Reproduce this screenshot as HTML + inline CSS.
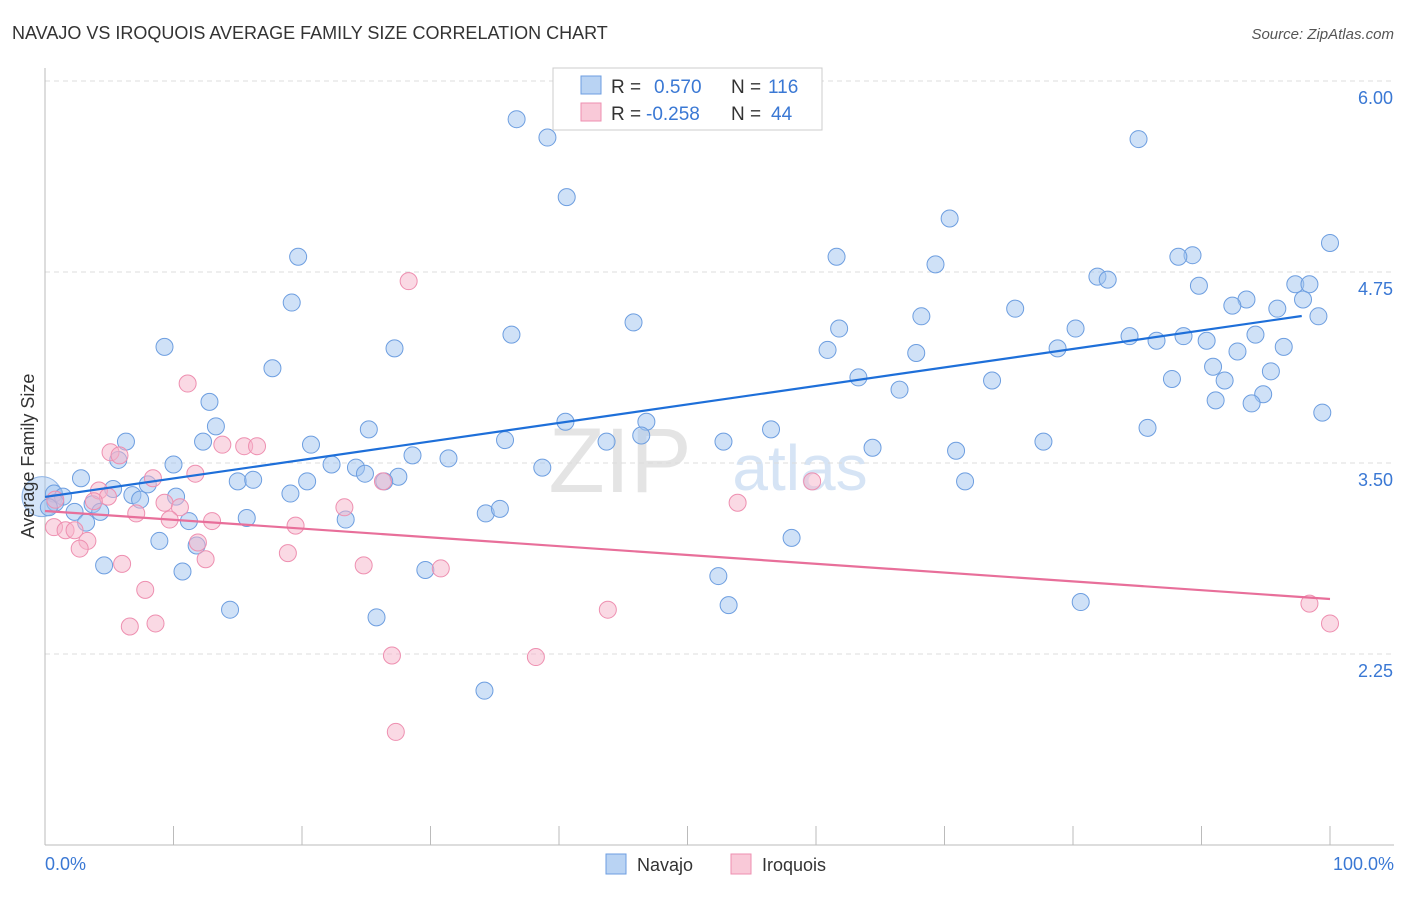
<!DOCTYPE html>
<html><head><meta charset="utf-8"><style>
body{margin:0;background:#fff;font-family:"Liberation Sans",sans-serif;}
svg text{font-family:"Liberation Sans",sans-serif;}
</style></head><body>
<svg id="chart" width="1406" height="892" viewBox="0 0 1406 892" xmlns="http://www.w3.org/2000/svg">
<text x="12" y="39" font-size="18" fill="#333">NAVAJO VS IROQUOIS AVERAGE FAMILY SIZE CORRELATION CHART</text>
<text x="1394" y="39" font-size="15" fill="#555" font-style="italic" text-anchor="end">Source: ZipAtlas.com</text>
<text x="620" y="492" font-size="92" fill="#e4e4e4" text-anchor="middle" font-family="Liberation Serif">ZIP</text>
<text x="800" y="490" font-size="64" fill="#d6e4f5" text-anchor="middle">atlas</text>
<g id="grid"></g>
<g id="axes"></g>
<g id="points"></g>
<g id="trends"></g>
<text transform="translate(34,456) rotate(-90)" font-size="18" fill="#333" text-anchor="middle">Average Family Size</text>
<text x="45" y="870" font-size="18" fill="#3a78d4">0.0%</text>
<text x="1394" y="870" font-size="18" fill="#3a78d4" text-anchor="end">100.0%</text>
<g>
<rect x="553" y="68" width="269" height="62" fill="#fff" stroke="#ccc"/>
<rect x="581" y="76" width="20" height="18" fill="#b9d3f3" stroke="#6d9ee0"/>
<text x="611" y="93" font-size="19" fill="#333">R =</text>
<text x="654" y="93" font-size="19" fill="#3a78d4">0.570</text>
<text x="731" y="93" font-size="19" fill="#333">N =</text>
<text x="768" y="93" font-size="19" fill="#3a78d4">116</text>
<rect x="581" y="103" width="20" height="18" fill="#f9c9d8" stroke="#ee8fb0"/>
<text x="611" y="120" font-size="19" fill="#333">R =</text>
<text x="646" y="120" font-size="19" fill="#3a78d4">-0.258</text>
<text x="731" y="120" font-size="19" fill="#333">N =</text>
<text x="771" y="120" font-size="19" fill="#3a78d4">44</text>
</g>
<g>
<rect x="606" y="854" width="20" height="20" fill="#b9d3f3" stroke="#6d9ee0"/>
<text x="637" y="871" font-size="18" fill="#333">Navajo</text>
</g>
<g>
<rect x="731" y="854" width="20" height="20" fill="#f9c9d8" stroke="#ee8fb0"/>
<text x="762" y="871" font-size="18" fill="#333">Iroquois</text>
</g>
</svg>
<script>
const yTicks=[2.25,3.5,4.75,6.0];
const yTickLabels=["2.25","3.50","4.75","6.00"];
const xTicks=[0,10,20,30,40,50,60,70,80,90,100];
const navajoX=[36.7,39.1,40.6,85.1,70.4,100,19.7,61.6,69.3,89.3,88.2,81.9,82.7,89.8,19.2,97.3,98.4,97.9,93.5,92.4,95.9,99.1,75.5,68.2,45.8,61.8,80.2,36.3,9.3,27.2,60.9,78.8,84.4,86.5,88.6,90.4,94.2,92.8,96.4,67.8,17.7,90.9,95.4,63.3,73.7,87.7,91.8,66.5,94.8,12.8,91.1,93.9,99.4,13.3,46.8,40.5,25.2,56.5,85.8,6.3,12.3,20.7,35.8,46.4,43.7,52.8,77.7,64.4,70.9,5.7,10.0,31.4,28.6,22.3,24.2,24.9,38.7,2.8,27.5,26.4,15.0,16.2,20.4,71.6,8.0,5.3,0.7,6.8,10.2,19.1,1.4,7.4,0.8,3.7,0.3,2.3,4.3,3.2,23.4,15.7,11.2,34.3,35.4,8.9,11.8,58.1,4.6,10.7,29.6,52.4,14.4,25.8,53.2,80.6,34.2];
const navajoY=[5.75,5.63,5.24,5.62,5.10,4.94,4.85,4.85,4.80,4.86,4.85,4.72,4.70,4.66,4.55,4.67,4.67,4.57,4.57,4.53,4.51,4.46,4.51,4.46,4.42,4.38,4.38,4.34,4.26,4.25,4.24,4.25,4.33,4.30,4.33,4.30,4.34,4.23,4.26,4.22,4.12,4.13,4.10,4.06,4.04,4.05,4.04,3.98,3.95,3.90,3.91,3.89,3.83,3.74,3.77,3.77,3.72,3.72,3.73,3.64,3.64,3.62,3.65,3.68,3.64,3.64,3.64,3.60,3.58,3.52,3.49,3.53,3.55,3.49,3.47,3.43,3.47,3.40,3.41,3.38,3.38,3.39,3.38,3.38,3.36,3.33,3.30,3.29,3.28,3.30,3.28,3.26,3.24,3.23,3.21,3.18,3.18,3.11,3.13,3.14,3.12,3.17,3.20,2.99,2.96,3.01,2.83,2.79,2.80,2.76,2.54,2.49,2.57,2.59,2.01];
const navajoBigX=[0];
const navajoBigY=[3.28];
const iroquoisX=[28.3,11.1,5.1,5.8,13.8,15.5,16.5,11.7,8.4,26.3,59.7,4.2,4.9,3.8,9.3,10.5,23.3,53.9,7.1,9.7,13.0,19.5,0.7,1.6,2.3,3.3,11.9,2.7,12.5,18.9,6.0,24.8,30.8,7.8,43.8,98.4,6.6,8.6,100,27.0,38.2,27.3,0.8];
const iroquoisY=[4.69,4.02,3.57,3.55,3.62,3.61,3.61,3.43,3.40,3.38,3.38,3.32,3.28,3.25,3.24,3.21,3.21,3.24,3.17,3.13,3.12,3.09,3.08,3.06,3.06,2.99,2.98,2.94,2.87,2.91,2.84,2.83,2.81,2.67,2.54,2.58,2.43,2.45,2.45,2.24,2.23,1.74,3.26];
const navajoTrend=[[0,3.278],[97.8,4.462]];
const iroquoisTrend=[[0,3.186],[100,2.61]];

const NS="http://www.w3.org/2000/svg";
const xs=v=>45+v*12.85;
const ys=v=>463-(v-3.5)*152.8;
function mk(tag,attrs,parent){const e=document.createElementNS(NS,tag);for(const k in attrs)e.setAttribute(k,attrs[k]);document.getElementById(parent).appendChild(e);return e;}

yTicks.forEach((t,i)=>{
  const l=mk('line',{x1:45,x2:1394,y1:ys(t),y2:ys(t),stroke:'#dcdcdc','stroke-dasharray':'5,4'},'grid');
  
  
  const tx=mk('text',{x:1393,y:ys(t)+23,'font-size':18,fill:'#3a78d4','text-anchor':'end'},'grid');
  tx.textContent=yTickLabels[i];
  
  
});
const ya=mk('line',{x1:45,x2:45,y1:68,y2:845,stroke:'#bbb'},'axes');


const xa=mk('line',{x1:45,x2:1394,y1:845,y2:845,stroke:'#bbb'},'axes');


xTicks.forEach(t=>{
  const l=mk('line',{x1:xs(t),x2:xs(t),y1:826,y2:845,stroke:'#bbb'},'axes');
  
  
});
navajoBigX.forEach((x,i)=>{
  const c=mk('circle',{cx:xs(x)-3,cy:ys(navajoBigY[i]),r:20,fill:'rgba(160,195,240,0.45)',stroke:'#8db3e6','stroke-width':1},'points');
  
  
});
navajoX.forEach((x,i)=>{
  const c=mk('circle',{cx:xs(x),cy:ys(navajoY[i]),r:8.5,fill:'rgba(160,195,240,0.5)',stroke:'#6d9ee0','stroke-width':1},'points');
  
  
});
iroquoisX.forEach((x,i)=>{
  const c=mk('circle',{cx:xs(x),cy:ys(iroquoisY[i]),r:8.5,fill:'rgba(245,180,202,0.5)',stroke:'#ee8fb0','stroke-width':1},'points');
  
  
});
const bl=mk('line',{x1:xs(navajoTrend[0][0]),y1:ys(navajoTrend[0][1]),x2:xs(navajoTrend[1][0]),y2:ys(navajoTrend[1][1]),stroke:'#1e6fd9','stroke-width':2.2},'trends');


const pl=mk('line',{x1:xs(iroquoisTrend[0][0]),y1:ys(iroquoisTrend[0][1]),x2:xs(iroquoisTrend[1][0]),y2:ys(iroquoisTrend[1][1]),stroke:'#e86f9a','stroke-width':2.2},'trends');


</script>
</body></html>
